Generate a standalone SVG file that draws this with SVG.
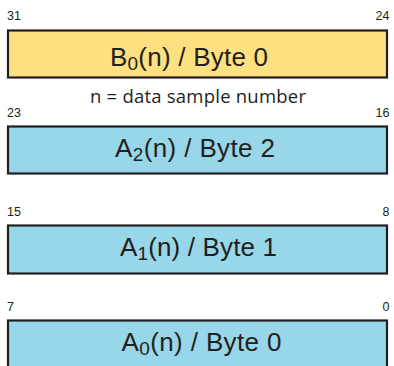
<svg xmlns="http://www.w3.org/2000/svg" width="394" height="366" viewBox="0 0 394 366">
<style>
.box{stroke:#231f20;stroke-width:2.2}
.y{fill:#fde07f}
.b{fill:#97d7e9}
.num{font-family:"Liberation Sans",Arial,sans-serif;font-size:12.5px;fill:#231f20}
.r{text-anchor:end}
.main{font-family:"Liberation Sans",Arial,sans-serif;font-size:26px;fill:#231f20}
.sub{font-size:19px}
.note{font-family:"Open Sans","Noto Sans",sans-serif;font-size:18.5px;fill:#231f20}
</style>
<rect width="394" height="366" fill="#ffffff"/>
<g id="byte3">
<text class="num" x="7" y="20">31</text>
<text class="num r" x="389.5" y="20">24</text>
<rect class="box y" x="8" y="30.5" width="379" height="47"/>
<text class="main" x="110" y="66" textLength="158">B<tspan class="sub" dy="3.5">0</tspan><tspan dy="-3.5">(n) / Byte 0</tspan></text>
</g>
<g id="note">
<text class="note" x="90" y="102.5" textLength="216">n = data sample number</text>
</g>
<g id="byte2">
<text class="num" x="7" y="116.5">23</text>
<text class="num r" x="389.5" y="116.5">16</text>
<rect class="box b" x="8" y="126.5" width="379" height="47"/>
<text class="main" x="115" y="157" textLength="160">A<tspan class="sub" dy="3.5">2</tspan><tspan dy="-3.5">(n) / Byte 2</tspan></text>
</g>
<g id="byte1">
<text class="num" x="7" y="215.5">15</text>
<text class="num r" x="389.5" y="215.5">8</text>
<rect class="box b" x="8" y="225.5" width="379" height="48"/>
<text class="main" x="120" y="256" textLength="157">A<tspan class="sub" dy="3.5">1</tspan><tspan dy="-3.5">(n) / Byte 1</tspan></text>
</g>
<g id="byte0">
<text class="num" x="7" y="310.5">7</text>
<text class="num r" x="389.5" y="310.5">0</text>
<rect class="box b" x="8" y="320.5" width="379" height="60"/>
<text class="main" x="121.5" y="351" textLength="160">A<tspan class="sub" dy="3.5">0</tspan><tspan dy="-3.5">(n) / Byte 0</tspan></text>
</g>
</svg>
